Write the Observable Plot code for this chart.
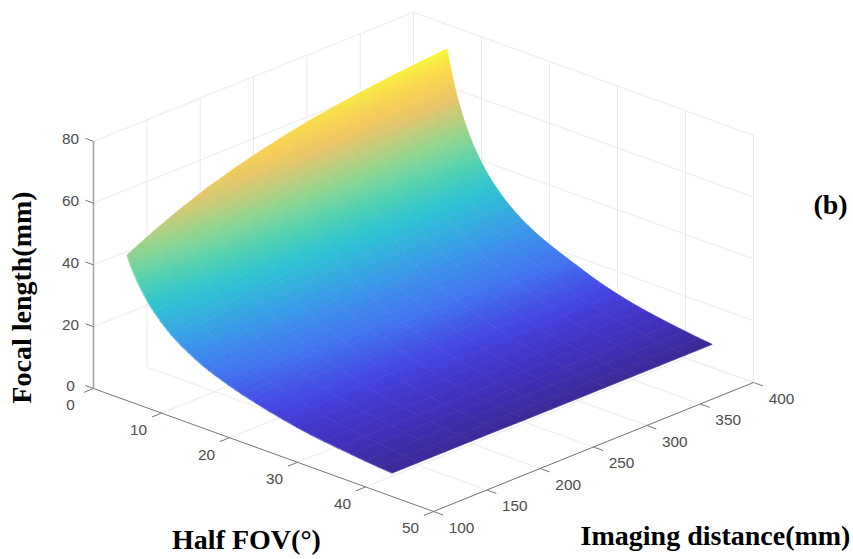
<!DOCTYPE html>
<html>
<head>
<meta charset="utf-8">
<style>html,body{margin:0;padding:0;background:#fff}svg{display:block}</style>
<script src="https://cdn.jsdelivr.net/npm/d3@7"></script>
<script src="https://cdn.jsdelivr.net/npm/@observablehq/plot@0.6"></script>
</head>
<body>
<div id="chart"></div>
<script>
const fovTicks = [0,10,20,30,40,50];
const distTicks = [100,150,200,250,300,350,400];
const focalTicks = [0,20,40,60,80];
const halfFov = [5,5.5,6,6.5,7,7.5,8,8.5,9,9.5,10,10.5,11,11.5,12,13,14,15,16,17,18,19,20,21,22,23,24,26,28,30,32,34,36,38,40,42,44];
const distance = [100,125,150,175,200,225,250,275,300,325,350,375,400];
const focal = [
[47,51.3,55,58.3,61,63.3,65.3,67,68.3,69.5,70.5,71.3,72],
[44.3,48.1,51.4,54.3,56.7,58.7,60.5,62.1,63.2,64.3,65.2,65.8,66.5],
[42,45.4,48.3,50.9,53.1,54.9,56.5,57.8,58.8,59.8,60.6,61.2,61.8],
[39.8,42.8,45.5,47.9,49.8,51.4,52.9,54.1,55,55.9,56.6,57.2,57.7],
[37.9,40.7,43.1,45.2,47,48.5,49.8,50.9,51.8,52.6,53.2,53.7,54.2],
[36.2,38.7,40.9,42.9,44.5,45.8,47,48,48.8,49.5,50.1,50.6,51],
[34.6,36.9,39,40.7,42.2,43.4,44.5,45.5,46.2,46.8,47.4,47.8,48.2],
[33.1,35.2,37.1,38.8,40.2,41.3,42.3,43.2,43.8,44.4,44.9,45.3,45.7],
[31.8,33.8,35.5,37,38.3,39.3,40.3,41.1,41.7,42.2,42.7,43.1,43.4],
[30.6,32.4,34.1,35.5,36.6,37.6,38.5,39.2,39.8,40.3,40.8,41.1,41.4],
[29.4,31.1,32.6,33.9,35.1,36,36.8,37.5,38,38.5,38.9,39.2,39.5],
[28.4,30,31.4,32.6,33.7,34.5,35.3,35.9,36.4,36.9,37.2,37.5,37.8],
[27.4,28.9,30.2,31.4,32.3,33.1,33.8,34.4,34.9,35.3,35.7,35.9,36.2],
[26.4,27.8,29.1,30.2,31.1,31.9,32.5,33.1,33.5,34,34.3,34.5,34.8],
[25.6,26.9,28.1,29.2,30,30.7,31.4,31.9,32.3,32.7,33,33.3,33.5],
[24,25.2,26.3,27.2,28,28.6,29.2,29.7,30,30.4,30.7,30.9,31.1],
[22.7,23.8,24.7,25.5,26.2,26.8,27.3,27.7,28.1,28.4,28.6,28.8,29],
[21.4,22.4,23.3,24,24.6,25.2,25.6,26,26.3,26.6,26.9,27,27.2],
[20.3,21.2,22,22.7,23.3,23.7,24.2,24.5,24.8,25.1,25.3,25.4,25.6],
[19.3,20.1,20.9,21.5,22,22.5,22.9,23.2,23.5,23.7,23.9,24.1,24.2],
[18.4,19.2,19.8,20.4,20.9,21.3,21.7,22,22.2,22.5,22.6,22.8,22.9],
[17.6,18.3,18.9,19.5,20,20.3,20.7,21,21.2,21.4,21.5,21.7,21.8],
[16.8,17.5,18.1,18.6,19,19.4,19.7,20,20.2,20.4,20.6,20.7,20.8],
[16.1,16.7,17.3,17.8,18.2,18.5,18.8,19.1,19.2,19.4,19.6,19.7,19.8],
[15.4,16,16.5,17,17.4,17.7,18,18.2,18.4,18.6,18.7,18.8,18.9],
[14.8,15.3,15.8,16.2,16.6,16.9,17.1,17.4,17.5,17.7,17.8,17.9,18],
[14.2,14.7,15.2,15.6,15.9,16.2,16.4,16.6,16.8,16.9,17,17.1,17.2],
[13.1,13.5,13.8,14.1,14.4,14.6,14.8,14.9,15.1,15.2,15.3,15.3,15.4],
[12.1,12.4,12.7,12.9,13.1,13.3,13.4,13.5,13.6,13.7,13.8,13.8,13.9],
[11.2,11.4,11.6,11.8,12,12.1,12.2,12.3,12.4,12.5,12.5,12.6,12.6],
[10.4,10.6,10.8,10.9,11,11.1,11.2,11.3,11.3,11.4,11.4,11.5,11.5],
[9.8,9.9,10,10.2,10.2,10.3,10.4,10.4,10.5,10.5,10.6,10.6,10.6],
[9.3,9.4,9.5,9.5,9.6,9.6,9.7,9.7,9.7,9.8,9.8,9.8,9.8],
[8.8,8.9,8.9,8.9,9,9,9,9,9.1,9.1,9.1,9.1,9.1],
[8.3,8.3,8.4,8.4,8.4,8.4,8.4,8.5,8.5,8.5,8.5,8.5,8.5],
[7.9,7.9,7.9,7.9,7.9,7.9,7.9,7.9,7.9,7.9,7.9,7.9,7.9],
[7.5,7.5,7.5,7.5,7.5,7.4,7.4,7.4,7.4,7.4,7.4,7.4,7.4]
];
const colorStops = [7.4,9.5,13,18,25,33,40,47,58,66,72];
const colors = ["#3a2a96","#4131bd","#4642e0","#4272f0","#3a9ee8","#2cc3d2","#55d2b0","#8fd690","#f0c468","#f9d84a","#f8f83c"];
const colorOf = Plot.scale({color: {type: "linear", domain: colorStops, range: colors, interpolate: "rgb"}});

// Oblique projection of the three data axes onto the page
const X = (t, d) => 93 + 6.8 * t + (d - 100) * 3.2 / 3;
const Y = (t, d, f) => 388 + 2.46 * t - (d - 100) * 1.29 / 3 - 3.09 * f;

// Surface patches, painted from the far corner to the near corner.
// Each patch is shaded like a MATLAB "interp" face, with an SVG gradient between its corner values.
const patches = [], gradients = [];
for (let i = 0; i < halfFov.length - 1; i++) {
  for (let j = distance.length - 2; j >= 0; j--) {
    const id = i + "-" + j, url = `url(#g${id})`;
    const pts = [[i,j],[i,j+1],[i+1,j],[i+1,j+1]].map(([a,b]) => ({
      x: X(halfFov[a], distance[b]), y: Y(halfFov[a], distance[b], focal[a][b]), f: focal[a][b]
    }));
    const cx = d3.mean(pts, p => p.x), cy = d3.mean(pts, p => p.y), cf = d3.mean(pts, p => p.f);
    const ux = (pts[2].x + pts[3].x - pts[0].x - pts[1].x) / 2, uy = (pts[2].y + pts[3].y - pts[0].y - pts[1].y) / 2;
    const vx = (pts[1].x + pts[3].x - pts[0].x - pts[2].x) / 2, vy = (pts[1].y + pts[3].y - pts[0].y - pts[2].y) / 2;
    const du = (pts[2].f + pts[3].f - pts[0].f - pts[1].f) / 2, dv = (pts[1].f + pts[3].f - pts[0].f - pts[2].f) / 2;
    const det = ux * vy - uy * vx;
    const gx = (du * vy - dv * uy) / det, gy = (ux * dv - vx * du) / det;
    const g2 = gx * gx + gy * gy || 1e-9;
    const ts = pts.map(p => (p.x - cx) * gx + (p.y - cy) * gy);
    const lo = d3.min(ts), hi = d3.max(ts);
    gradients.push({
      id: "g" + id,
      x1: cx + gx * lo / g2, y1: cy + gy * lo / g2, x2: cx + gx * hi / g2, y2: cy + gy * hi / g2,
      c1: colorOf.apply(cf + lo), c2: colorOf.apply(cf + hi)
    });
    for (const k of [j, j + 1]) {
      patches.push({
        id, url,
        x1: X(halfFov[i], distance[k]), y1: Y(halfFov[i], distance[k], focal[i][k]),
        x2: X(halfFov[i+1], distance[k]), y2: Y(halfFov[i+1], distance[k], focal[i+1][k])
      });
    }
  }
}

const seg = (a, b) => ({x1: X(a[0], a[1]), y1: Y(a[0], a[1], a[2]), x2: X(b[0], b[1]), y2: Y(b[0], b[1], b[2])});
const fMax = 80, tMax = 50, dMin = 100, dMax = 400;
const grid = [
  ...distTicks.slice(1).map(d => seg([0,d,0],[0,d,fMax])),
  ...distTicks.slice(1).map(d => seg([0,d,0],[tMax,d,0])),
  ...fovTicks.slice(1).map(t => seg([t,dMax,0],[t,dMax,fMax])),
  ...fovTicks.slice(1).map(t => seg([t,dMin,0],[t,dMax,0])),
  ...focalTicks.slice(1).map(f => seg([0,dMin,f],[0,dMax,f])),
  ...focalTicks.slice(1).map(f => seg([0,dMax,f],[tMax,dMax,f])),
  seg([0,dMax,0],[tMax,dMax,0])
];
const floorAxes = [seg([0,dMin,0],[tMax,dMin,0]), seg([tMax,dMin,0],[tMax,dMax,0])];
const zAxis = [seg([0,dMin,0],[0,dMin,fMax])];
const ticks = [
  ...fovTicks.map(t => seg([t,dMin,0],[t,dMin-9,0])),
  ...distTicks.map(d => seg([tMax,d,0],[tMax+1.4,d,0])),
  ...focalTicks.map(f => seg([0,dMin,f],[-1.2,dMin,f]))
];
const lblFont = {fontFamily: "'Liberation Sans', Arial, sans-serif", fontSize: 15.4, fill: "#4d4d4d"};
const titleFont = {fontFamily: "'Liberation Serif', 'Times New Roman', serif", fontWeight: "bold", fontSize: 28, fill: "#000"};

const plot = Plot.plot({
  width: 853, height: 559, margin: 0,
  x: {domain: [0, 853], range: [0, 853], axis: null},
  y: {domain: [0, 559], range: [0, 559], axis: null},
  marks: [
    Plot.link(grid, {x1: "x1", y1: "y1", x2: "x2", y2: "y2", stroke: "#ebebeb", strokeWidth: 1}),
    Plot.area(patches, {x1: "x1", y1: "y1", x2: "x2", y2: "y2", z: "id",
      fill: {value: d => d.url, scale: null}, stroke: {value: d => d.url, scale: null}, strokeWidth: 0.7}),
    Plot.link(zAxis, {x1: "x1", y1: "y1", x2: "x2", y2: "y2", stroke: "#a6a6a6", strokeWidth: 1.6}),
    Plot.link(floorAxes, {x1: "x1", y1: "y1", x2: "x2", y2: "y2", stroke: "#777", strokeWidth: 1}),
    Plot.link(ticks, {x1: "x1", y1: "y1", x2: "x2", y2: "y2", stroke: "#777", strokeWidth: 1}),
    Plot.text(focalTicks, {x: f => X(0, dMin), y: f => Y(0, dMin, f), text: d => String(d), dx: -23, dy: -2, ...lblFont}),
    Plot.text(fovTicks, {x: t => X(t, dMin), y: t => Y(t, dMin, 0), text: d => String(d), dx: -23, dy: 17, ...lblFont}),
    Plot.text(distTicks, {x: d => X(tMax, d), y: d => Y(tMax, d, 0), text: d => String(d), dx: 28, dy: 16.5, ...lblFont}),
    Plot.text(["Focal length(mm)"], {x: () => 22, y: () => 297, rotate: -90, text: d => d, ...titleFont}),
    Plot.text(["Half FOV(°)"], {x: () => 246, y: () => 540, text: d => d, ...titleFont}),
    Plot.text(["Imaging distance(mm)"], {x: () => 715, y: () => 536, text: d => d, ...titleFont}),
    Plot.text(["(b)"], {x: () => 830, y: () => 205, text: d => d, ...titleFont})
  ]
});
const defs = d3.select(plot).append("defs");
for (const g of gradients) {
  const lg = defs.append("linearGradient").attr("id", g.id).attr("gradientUnits", "userSpaceOnUse")
    .attr("x1", g.x1).attr("y1", g.y1).attr("x2", g.x2).attr("y2", g.y2);
  lg.append("stop").attr("offset", 0).attr("stop-color", g.c1);
  lg.append("stop").attr("offset", 1).attr("stop-color", g.c2);
}
document.getElementById("chart").appendChild(plot);
</script>
</body>
</html>
